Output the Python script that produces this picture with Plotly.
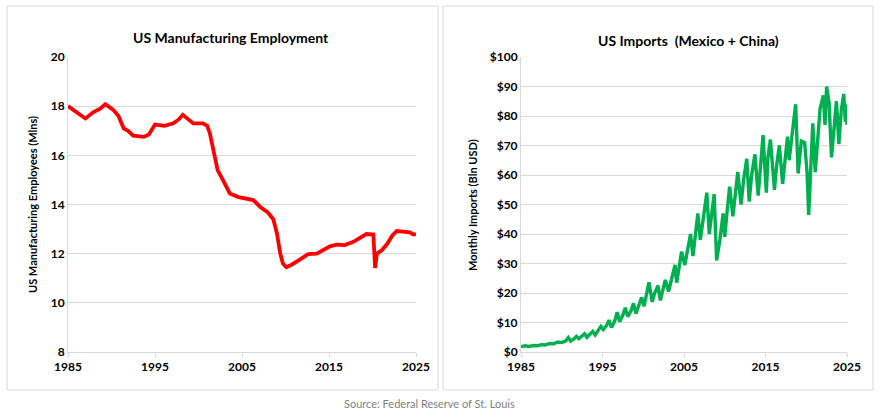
import plotly.graph_objects as go

# ---------------- data ----------------
emp_years = [1985.0, 1986.0, 1987.0, 1987.9, 1988.7, 1989.3, 1990.2, 1990.8, 1991.4, 1991.9,
             1992.5, 1993.7, 1994.3, 1995.0, 1996.1, 1997.1, 1997.7, 1998.2, 1998.7, 1999.4,
             2000.5, 2001.0, 2001.3, 2001.7, 2002.2, 2002.8, 2003.6, 2004.6, 2005.6, 2006.3,
             2007.1, 2007.9, 2008.6, 2009.0, 2009.4, 2009.7, 2010.1, 2010.7, 2011.6, 2012.6,
             2013.6, 2014.3, 2015.1, 2015.9, 2016.8, 2017.8, 2018.8, 2019.3, 2020.1, 2020.3,
             2020.5, 2021.1, 2021.7, 2022.3, 2022.8, 2023.5, 2024.3, 2024.7, 2025.0]
emp_values = [18.0, 17.75, 17.5, 17.75, 17.9, 18.08, 17.85, 17.6, 17.1, 17.0,
              16.8, 16.75, 16.85, 17.25, 17.2, 17.3, 17.45, 17.65, 17.5, 17.3,
              17.3, 17.2, 16.9, 16.2, 15.4, 15.0, 14.45, 14.3, 14.25, 14.18,
              13.9, 13.7, 13.4, 12.85, 12.0, 11.6, 11.45, 11.55, 11.75, 11.98,
              12.0, 12.15, 12.3, 12.37, 12.35, 12.48, 12.72, 12.8, 12.78, 11.42,
              12.0, 12.15, 12.4, 12.75, 12.92, 12.88, 12.87, 12.78, 12.8]

imp_years = [1985.0, 1985.5, 1986.0, 1986.5, 1987.0, 1987.5, 1988.0, 1988.5, 1989.0, 1989.5,
             1990.0, 1990.5, 1990.8, 1991.1, 1991.5, 1991.8, 1992.1, 1992.5, 1992.8, 1993.1,
             1993.5, 1993.8, 1994.1, 1994.5, 1994.8, 1995.1, 1995.5, 1995.8, 1996.1, 1996.5,
             1996.8, 1997.1, 1997.5, 1997.8, 1998.1, 1998.5, 1998.8, 1999.1, 1999.5, 1999.8,
             2000.1, 2000.4, 2000.7, 2001.1, 2001.4, 2001.8, 2002.1, 2002.4, 2002.7, 2003.1,
             2003.5, 2003.9, 2004.1, 2004.4, 2004.7, 2005.1, 2005.4, 2005.8, 2006.1, 2006.4,
             2006.7, 2007.0, 2007.4, 2007.8, 2008.1, 2008.4, 2008.7, 2009.0, 2009.4, 2009.8,
             2010.0, 2010.3, 2010.6, 2011.0, 2011.3, 2011.6, 2012.0, 2012.3, 2012.7, 2013.0,
             2013.3, 2013.7, 2014.1, 2014.4, 2014.7, 2015.1, 2015.3, 2015.6, 2016.1, 2016.4,
             2016.7, 2017.1, 2017.4, 2017.7, 2017.9, 2018.3, 2018.7, 2019.0, 2019.4, 2019.8,
             2020.1, 2020.3, 2020.8, 2021.1, 2021.4, 2021.7, 2022.1, 2022.3, 2022.5, 2022.8,
             2023.1, 2023.4, 2023.7, 2024.0, 2024.3, 2024.6, 2024.8, 2024.9, 2025.0]
imp_values = [1.8, 2.1, 1.9, 2.2, 2.1, 2.5, 2.4, 2.9, 2.8, 3.4,
              3.2, 3.8, 4.9, 3.7, 4.4, 5.3, 4.5, 5.5, 6.2, 5.0,
              6.0, 7.0, 5.8, 7.5, 8.7, 7.6, 9.0, 10.8, 8.3, 10.5,
              13.5, 10.3, 12.5, 15.0, 12.0, 14.0, 16.5, 13.0, 16.0, 18.5,
              15.5, 19.0, 23.6, 17.0, 20.0, 22.5, 17.5, 21.0, 24.4, 20.5,
              25.0, 29.5, 23.5, 29.0, 34.0, 29.5, 33.5, 40.0, 32.5, 40.0,
              47.0, 38.0, 46.0, 54.0, 40.0, 48.0, 53.5, 31.0, 38.0, 47.0,
              39.0, 48.0, 56.0, 46.0, 54.0, 61.0, 50.0, 58.0, 65.5, 51.0,
              60.0, 67.0, 53.0, 63.0, 73.5, 54.0, 66.0, 72.0, 55.0, 64.0,
              70.0, 57.0, 66.0, 73.0, 65.0, 74.0, 84.0, 60.5, 71.5, 71.0,
              61.0, 46.5, 77.5, 61.0, 73.0, 82.5, 87.0, 77.0, 90.0, 84.5,
              66.0, 76.5, 85.0, 70.5, 82.0, 87.5, 78.0, 84.0, 77.0]

x_ticks = [1985, 1995, 2005, 2015, 2025]
emp_ticks = [8, 10, 12, 14, 16, 18, 20]
imp_ticks = [0, 10, 20, 30, 40, 50, 60, 70, 80, 90, 100]
imp_tick_labels = ["$" + str(v) for v in imp_ticks]

title_left = "US Manufacturing Employment"
title_right = "US Imports\u00a0\u00a0(Mexico + China)"
ytitle_left = "US Manufacturing Employees (Mlns)"
ytitle_right = "Monthly Imports (Bln USD)"
source_text = "Source: Federal Reserve of St. Louis"

# ---------------- figure ----------------
W, H = 878, 413
FONT = "Lato, 'Open Sans', sans-serif"
GRID = "#D9D9D9"

def px(x):
    return x / W

def py(y):
    return 1 - y / H

fig = go.Figure()
fig.add_trace(go.Scatter(x=emp_years, y=emp_values, mode="lines",
                         line=dict(color="#FF0000", width=3.8),
                         xaxis="x", yaxis="y", showlegend=False))
fig.add_trace(go.Scatter(x=imp_years, y=imp_values, mode="lines",
                         line=dict(color="#00B050", width=3.4),
                         xaxis="x2", yaxis="y2", showlegend=False))

tickfont = dict(family=FONT, size=12, color="#000000", weight="bold")

xcommon = dict(range=[1985, 2025], tickvals=x_ticks, ticktext=[str(t) for t in x_ticks],
               showgrid=False, showline=True, linecolor=GRID, linewidth=1,
               ticks="outside", ticklen=4, tickcolor=GRID, tickfont=tickfont, zeroline=False,
               fixedrange=True, automargin=False)
ycommon = dict(showgrid=True, gridcolor=GRID, gridwidth=1, showline=True, linecolor=GRID,
               linewidth=1, ticks="", tickfont=tickfont, zeroline=False, fixedrange=True,
               automargin=False)

fig.update_layout(
    width=W, height=H,
    margin=dict(l=0, r=0, t=0, b=0, pad=0),
    paper_bgcolor="white", plot_bgcolor="white",
    hovermode=False,
    xaxis=dict(domain=[px(68), px(416)], anchor="y", **xcommon),
    yaxis=dict(domain=[py(352), py(57)], anchor="x", range=[8, 20], tickvals=emp_ticks, **ycommon),
    xaxis2=dict(domain=[px(521), px(847)], anchor="y2", **xcommon),
    yaxis2=dict(domain=[py(352), py(57)], anchor="x2", range=[0, 100], tickvals=imp_ticks,
                ticktext=imp_tick_labels, **ycommon),
    shapes=[
        dict(type="rect", xref="paper", yref="paper", x0=px(7), x1=px(438), y0=py(390), y1=py(6),
             line=dict(color=GRID, width=1), fillcolor="rgba(0,0,0,0)", layer="below"),
        dict(type="rect", xref="paper", yref="paper", x0=px(443), x1=px(873), y0=py(390), y1=py(6),
             line=dict(color=GRID, width=1), fillcolor="rgba(0,0,0,0)", layer="below"),
    ],
    annotations=[
        dict(text=title_left, xref="paper", yref="paper", x=px(231), y=py(38), showarrow=False,
             xanchor="center", yanchor="middle",
             font=dict(family=FONT, size=14, color="#000000", weight="bold")),
        dict(text=title_right, xref="paper", yref="paper", x=px(688), y=py(40), showarrow=False,
             xanchor="center", yanchor="middle",
             font=dict(family=FONT, size=14, color="#000000", weight="bold")),
        dict(text=ytitle_left, xref="paper", yref="paper", x=px(32), y=py(205), showarrow=False,
             textangle=-90, xanchor="center", yanchor="middle",
             font=dict(family=FONT, size=11, color="#000000", weight="bold")),
        dict(text=ytitle_right, xref="paper", yref="paper", x=px(472), y=py(205), showarrow=False,
             textangle=-90, xanchor="center", yanchor="middle",
             font=dict(family=FONT, size=11, color="#000000", weight="bold")),
        dict(text=source_text, xref="paper", yref="paper", x=px(429), y=py(403), showarrow=False,
             xanchor="center", yanchor="middle",
             font=dict(family=FONT, size=11, color="#7F7F7F")),
    ],
)

fig.write_html("out.html", config={"displayModeBar": False, "staticPlot": True},
               post_script="document.body.style.margin='0';document.body.style.overflow='hidden';")
